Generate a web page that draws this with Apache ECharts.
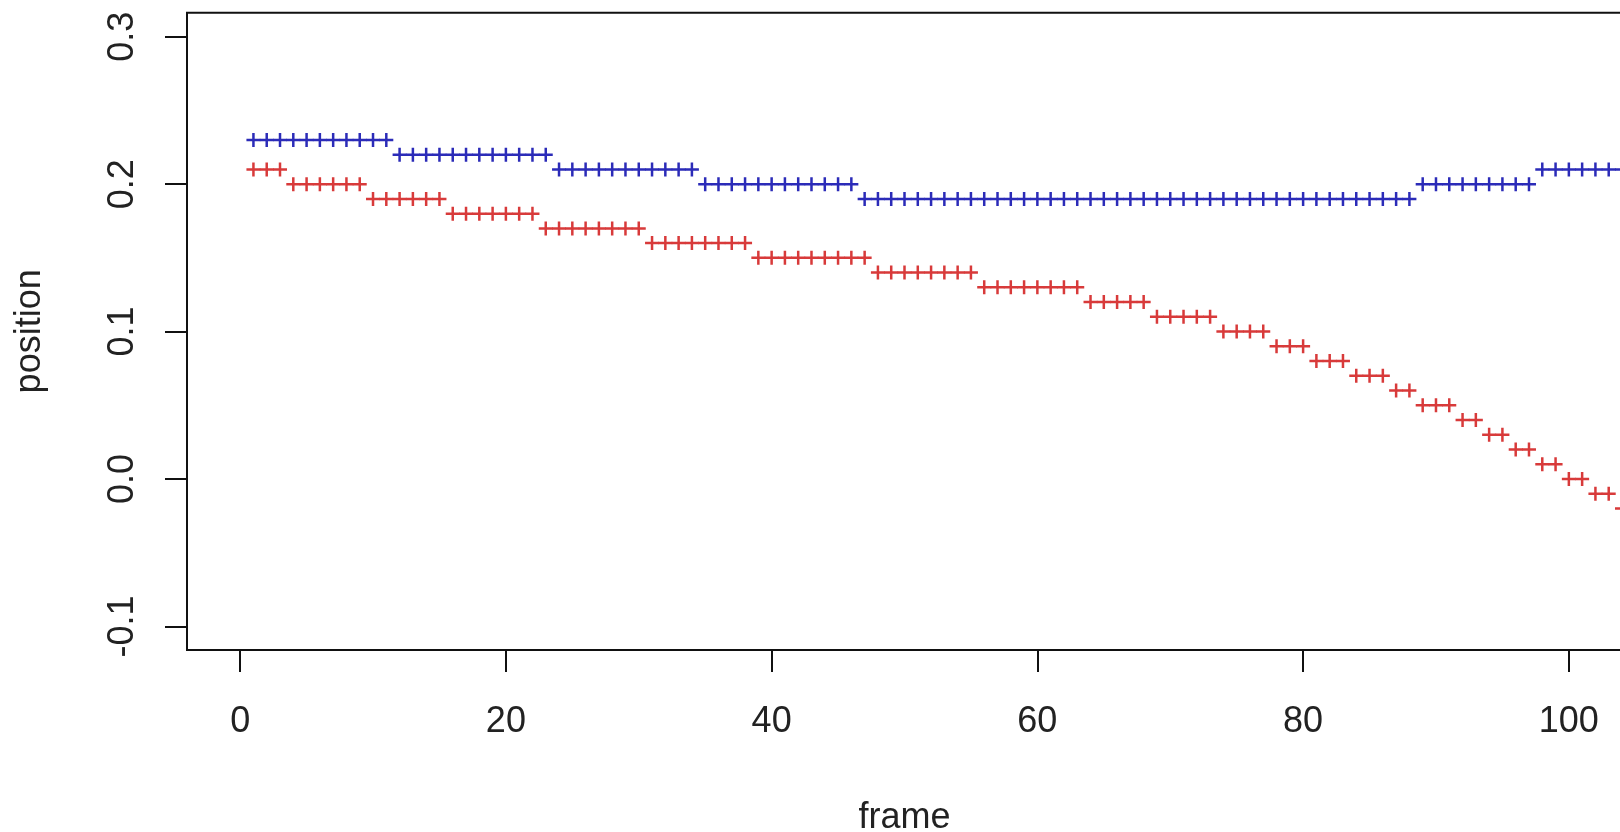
<!DOCTYPE html>
<html>
<head>
<meta charset="utf-8">
<script src="https://cdn.jsdelivr.net/npm/echarts@6/dist/echarts.min.js"></script>
<style>
html,body{margin:0;padding:0;background:#fff;}
#chart{width:1620px;height:832px;}
</style>
</head>
<body>
<div id="chart"></div>
<script>
const frames = [1,2,3,4,5,6,7,8,9,10,11,12,13,14,15,16,17,18,19,20,
  21,22,23,24,25,26,27,28,29,30,31,32,33,34,35,36,37,38,39,40,
  41,42,43,44,45,46,47,48,49,50,51,52,53,54,55,56,57,58,59,60,
  61,62,63,64,65,66,67,68,69,70,71,72,73,74,75,76,77,78,79,80,
  81,82,83,84,85,86,87,88,89,90,91,92,93,94,95,96,97,98,99,100,
  101,102,103,104];

const bluePos = [
  0.23,0.23,0.23,0.23,0.23,0.23,0.23,0.23,0.23,0.23,0.23,
  0.22,0.22,0.22,0.22,0.22,0.22,0.22,0.22,0.22,0.22,0.22,0.22,
  0.21,0.21,0.21,0.21,0.21,0.21,0.21,0.21,0.21,0.21,0.21,
  0.20,0.20,0.20,0.20,0.20,0.20,0.20,0.20,0.20,0.20,0.20,0.20,
  0.19,0.19,0.19,0.19,0.19,0.19,0.19,0.19,0.19,0.19,
  0.19,0.19,0.19,0.19,0.19,0.19,0.19,0.19,0.19,0.19,
  0.19,0.19,0.19,0.19,0.19,0.19,0.19,0.19,0.19,0.19,
  0.19,0.19,0.19,0.19,0.19,0.19,0.19,0.19,0.19,0.19,
  0.19,0.19,
  0.20,0.20,0.20,0.20,0.20,0.20,0.20,0.20,0.20,
  0.21,0.21,0.21,0.21,0.21,0.21,0.21];

const redPos = [
  0.21,0.21,0.21,
  0.20,0.20,0.20,0.20,0.20,0.20,
  0.19,0.19,0.19,0.19,0.19,0.19,
  0.18,0.18,0.18,0.18,0.18,0.18,0.18,
  0.17,0.17,0.17,0.17,0.17,0.17,0.17,0.17,
  0.16,0.16,0.16,0.16,0.16,0.16,0.16,0.16,
  0.15,0.15,0.15,0.15,0.15,0.15,0.15,0.15,0.15,
  0.14,0.14,0.14,0.14,0.14,0.14,0.14,0.14,
  0.13,0.13,0.13,0.13,0.13,0.13,0.13,0.13,
  0.12,0.12,0.12,0.12,0.12,
  0.11,0.11,0.11,0.11,0.11,
  0.10,0.10,0.10,0.10,
  0.09,0.09,0.09,
  0.08,0.08,0.08,
  0.07,0.07,0.07,
  0.06,0.06,
  0.05,0.05,0.05,
  0.04,0.04,
  0.03,0.03,
  0.02,0.02,
  0.01,0.01,
  0.00,0.00,
  -0.01,-0.01,
  -0.02];

const xTicks = [0,20,40,60,80,100];
const yTicks = [-0.1,0.0,0.1,0.2,0.3];
const yTickLabels = ['-0.1','0.0','0.1','0.2','0.3'];

const plusPath = 'path://M0,5.75 H5.75 V0 H8.25 V5.75 H14 V8.25 H8.25 V14 H5.75 V8.25 H0 Z';
const FONT = 'Liberation Sans, Arial, sans-serif';

function pairs(xs, ys){ return xs.map((x,i)=>[x, ys[i]]); }

const chart = echarts.init(document.getElementById('chart'), null, {renderer:'canvas'});
chart.setOption({
  animation: false,
  backgroundColor: '#ffffff',
  grid: {
    left: 187, top: 12.7, right: -2, bottom: 182,
    containLabel: false, outerBoundsMode: 'none',
    show: true, borderColor: '#111', borderWidth: 2, backgroundColor: 'transparent'
  },
  xAxis: {
    type: 'value', min: -4, max: 104,
    name: 'frame', nameLocation: 'middle', nameGap: 150,
    nameTextStyle: {fontFamily: FONT, fontSize: 36, color: '#222'},
    axisLine: {show: false, onZero: false},
    splitLine: {show: false},
    axisTick: {show: true, length: 22, inside: false, customValues: xTicks,
      lineStyle: {color: '#111', width: 2}},
    axisLabel: {show: true, margin: 54, customValues: xTicks,
      fontFamily: FONT, fontSize: 36, color: '#222'}
  },
  yAxis: {
    type: 'value', min: -0.116, max: 0.3163,
    name: 'position', nameLocation: 'middle', nameGap: 139,
    nameTextStyle: {fontFamily: FONT, fontSize: 36, color: '#222'},
    axisLine: {show: false, onZero: false},
    splitLine: {show: false},
    axisTick: {show: true, length: 22, inside: false, customValues: yTicks,
      lineStyle: {color: '#111', width: 2}},
    axisLabel: {show: true, margin: 46, rotate: 90, customValues: yTicks,
      fontFamily: FONT, fontSize: 36, color: '#222',
      formatter: function(v){
        const i = yTicks.findIndex(t => Math.abs(t - v) < 1e-9);
        return i >= 0 ? yTickLabels[i] : '';
      }}
  },
  series: [
    {
      name: 'blue', type: 'scatter', data: pairs(frames, bluePos),
      symbol: plusPath, symbolSize: 14, clip: true,
      itemStyle: {color: '#2b2bb8', opacity: 1}
    },
    {
      name: 'red', type: 'scatter', data: pairs(frames, redPos),
      symbol: plusPath, symbolSize: 14, clip: true,
      itemStyle: {color: '#d83a3a', opacity: 1}
    }
  ]
});
</script>
</body>
</html>
